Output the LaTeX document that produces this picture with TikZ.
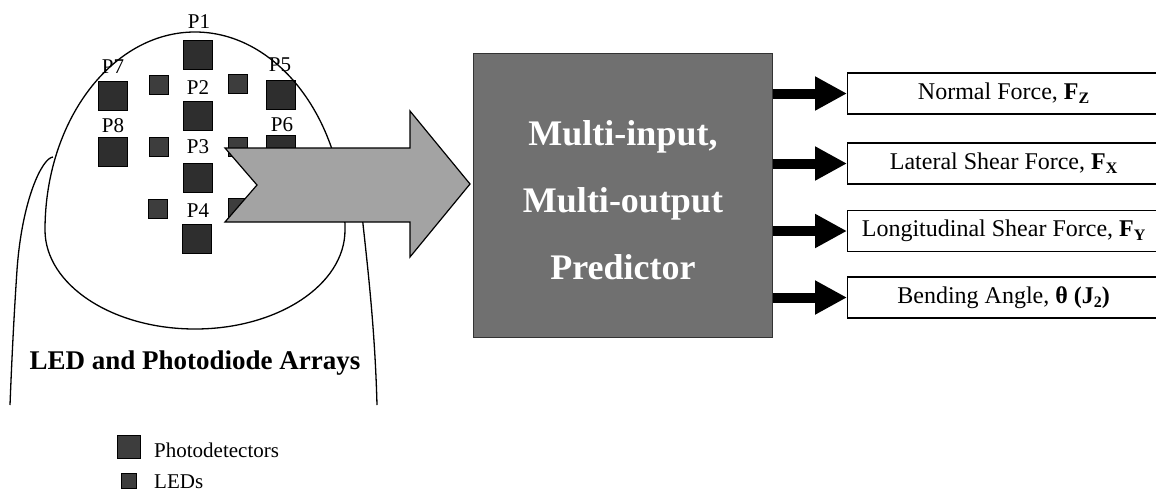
\documentclass[tikz,border=0pt]{standalone}
\usepackage{fontspec}
\setmainfont{Liberation Serif}
\usetikzlibrary{arrows.meta}
% bold lowered subscript for force symbols
\newcommand\subbf[1]{\raisebox{-0.35ex}{\fontsize{16}{16}\selectfont\bfseries #1}}

\begin{document}
\begin{tikzpicture}[x=1pt,y=-1pt,
  pd/.style={draw=black, fill=black!82, minimum size=29pt, inner sep=0pt, line width=0.6pt},
  led/.style={draw=black, fill=black!76, minimum size=19pt, inner sep=0pt, line width=0.6pt},
  plabel/.style={font=\fontsize{21}{21}\selectfont, inner sep=0pt},
  outline/.style={line width=1.3pt},
  outbox/.style={draw, line width=1.2pt, minimum width=312pt, minimum height=41pt,
    anchor=west, inner sep=0pt, font=\fontsize{24}{24}\selectfont},
  outarrow/.style={line width=10pt, -{Triangle[length=32pt,width=32pt]}},
]
\clip (0,0) rectangle (1156,493);
\fill[white] (0,0) rectangle (1156,493);

% photodetector squares
\node[pd] (s1) at (197.5,54.5) {};
\node[pd] (s2) at (197.5,116) {};
\node[pd] (s3) at (197.5,178) {};
\node[pd] (s4) at (197,239) {};
\node[pd] (s7) at (113,96) {};
\node[pd] (s8) at (113,151.5) {};
\node[pd] (s5) at (280.5,94.5) {};
\node[pd] (s6) at (280.5,150) {};

% LED squares
\node[led] (l1) at (158.5,85) {};
\node[led] (l2) at (238,84) {};
\node[led] (l3) at (158.5,147) {};
\node[led] (l4) at (238,146.5) {};
\node[led] (l5) at (158,208.5) {};
\node[led] (l6) at (238,207.5) {};

% photodetector labels
\node[plabel] (p1) at (199,22) {P1};
\node[plabel] (p2) at (198,88) {P2};
\node[plabel] (p3) at (198,147) {P3};
\node[plabel] (p4) at (198,211) {P4};
\node[plabel] (p5) at (280,65) {P5};
\node[plabel] (p6) at (282,125) {P6};
\node[plabel] (p7) at (113,67) {P7};
\node[plabel] (p8) at (113,126) {P8};

% fingernail outline
\draw[outline] (45,230) .. controls (45,120.6) and (112.2,32) .. (195,32)
  .. controls (277.8,32) and (345,120.6) .. (345,230)
  .. controls (345,284.7) and (277.8,329) .. (195,329)
  .. controls (112.2,329) and (45,284.7) .. (45,230);

% fingertip sides
\draw[outline] (53,157) .. controls (42,158) and (22,200) .. (17,270)
  .. controls (13,330) and (11,380) .. (10,405);
\draw[outline] (362,215) .. controls (368,270) and (375,330) .. (377,405);

% input arrow
\draw[line width=1.2pt, fill=black!36] (225,148) -- (410,148) -- (410,111) -- (470,184)
  -- (410,257) -- (410,222) -- (225,222) -- (257,185) -- cycle;

% predictor block
\node[draw=black!80, line width=1pt, fill=black!56, minimum width=299pt, minimum height=284pt,
  inner sep=0pt] (pred) at (622.5,195) {};
\node[font=\fontsize{36}{67}\selectfont\bfseries, text=white, align=center] (predtxt)
  at (623,200) {Multi-input,\\Multi-output\\Predictor};

% outputs
\node[outbox] (fz) at (847,93.5) {Normal Force, \textbf{F}\subbf{Z}};
\node[outbox] (fx) at (847,163.5) {Lateral Shear Force, \textbf{F}\subbf{X}};
\node[outbox] (fy) at (847,231) {Longitudinal Shear Force, \textbf{F}\subbf{Y}};
\node[outbox] (th) at (847,297.5) {Bending Angle, \textbf{θ (J\subbf{2})}};

\foreach \o in {fz,fx,fy,th}
  \draw[outarrow] (pred.east |- \o.west) -- (\o.west);

% caption under the finger
\node[font=\fontsize{27}{27}\selectfont\bfseries] (cap) at (195,363) {LED and Photodiode Arrays};

% legend
\node[draw=black, fill=black!76, minimum size=23pt, inner sep=0pt, line width=0.6pt] (legpd) at (128.5,447) {};
\node[draw=black, fill=black!76, minimum size=15pt, inner sep=0pt, line width=0.6pt] (legled) at (128.5,480.5) {};
\node[plabel, anchor=west] (legpdtxt) at (154,450) {Photodetectors};
\node[plabel, anchor=west] (legledtxt) at (154,482) {LEDs};
\end{tikzpicture}
\end{document}
